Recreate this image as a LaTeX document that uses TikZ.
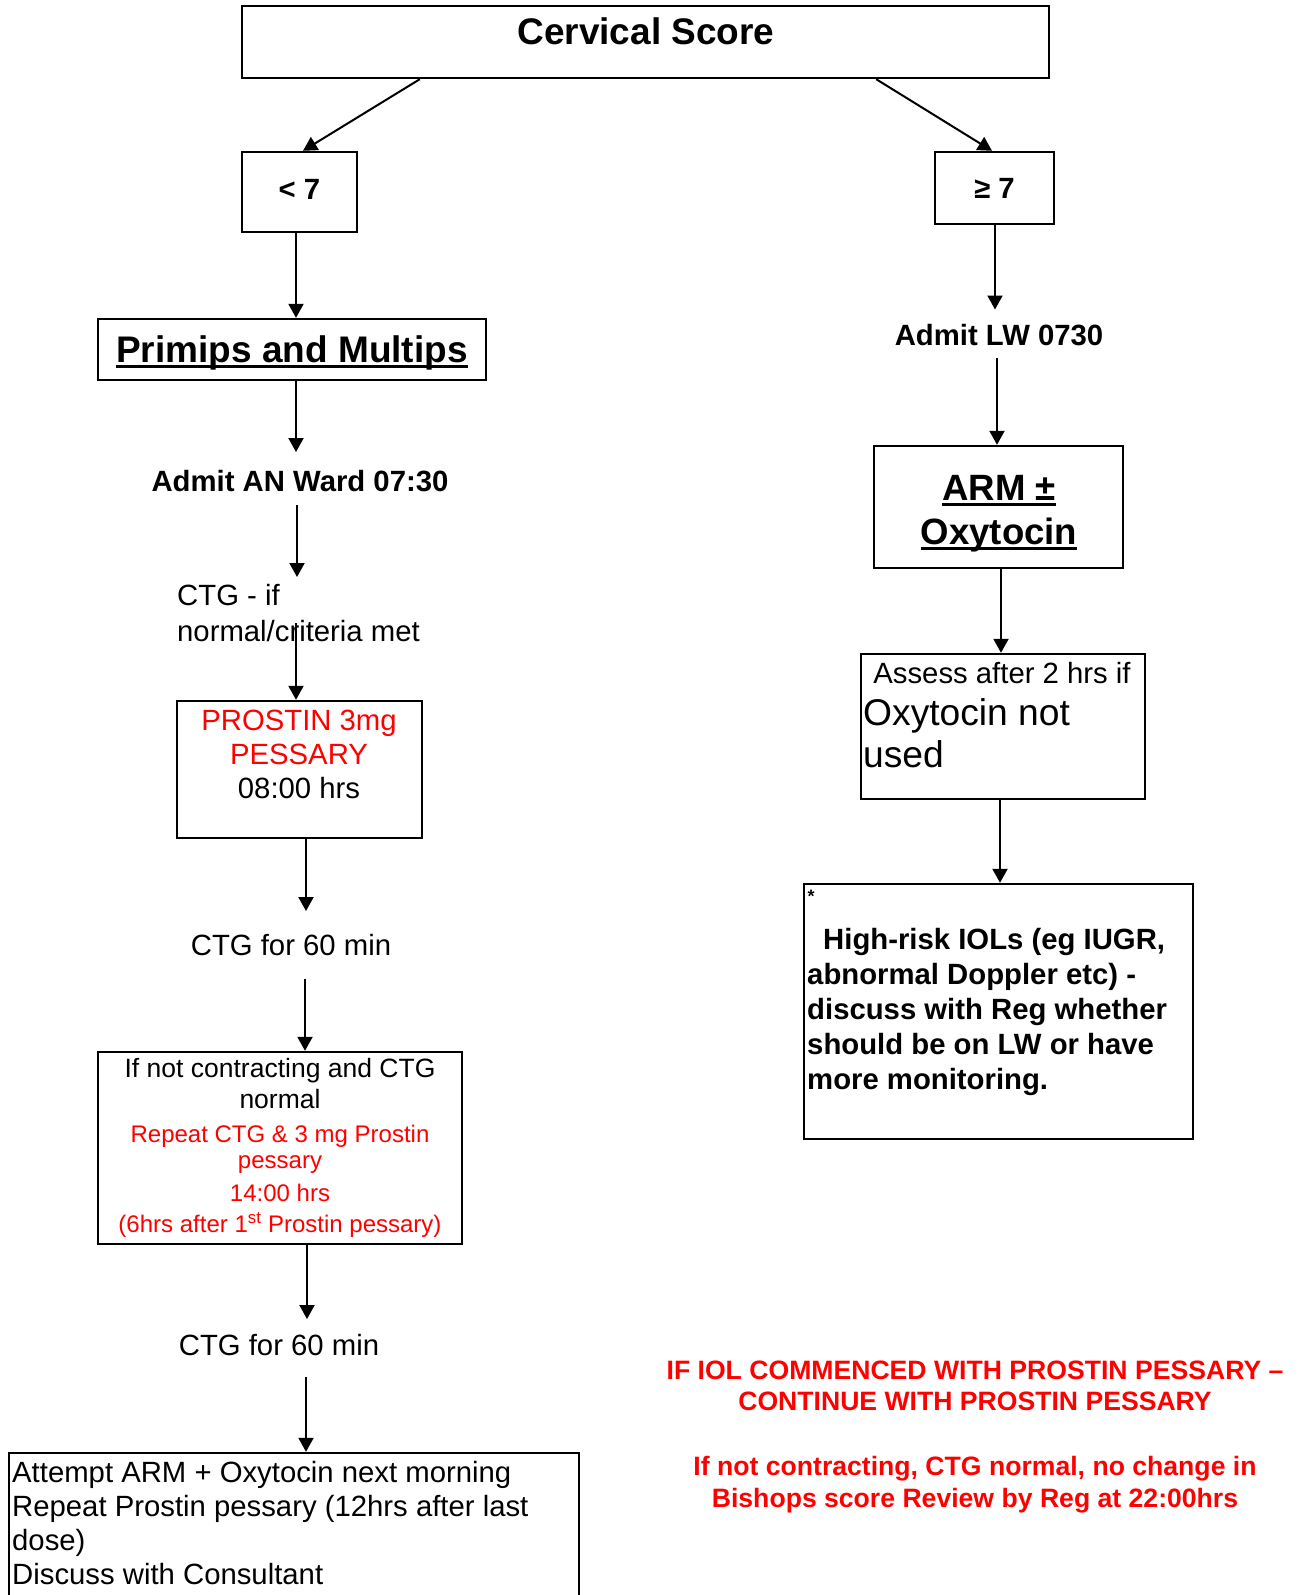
\documentclass[tikz,border=0pt]{standalone}
\usepackage{fontspec}
\setmainfont{Liberation Sans}
\usetikzlibrary{arrows.meta}
\definecolor{alertred}{RGB}{255,0,0}
% font sizes (1pt = one pixel of the page)
\newcommand\ftitle{\fontsize{37}{44}\selectfont}
\newcommand\farm{\fontsize{36.6}{44}\selectfont}
\newcommand\fassess{\fontsize{37.2}{42}\selectfont}
\newcommand\fmid{\fontsize{29.3}{34}\selectfont}
\newcommand\fctg{\fontsize{29.3}{36}\selectfont}
\newcommand\fhr{\fontsize{29.3}{35}\selectfont}
\newcommand\fsmall{\fontsize{26.5}{31}\selectfont}
\newcommand\fred{\fontsize{24}{27}\selectfont\color{alertred}}
\newcommand\fnote{\fontsize{26.6}{31.5}\selectfont}
\newcommand\fstar{\fontsize{18}{20}\selectfont}
% heavy underline
\newcommand\ulbar[1]{\leavevmode\sbox0{#1}\rlap{\rule[-6pt]{\wd0}{3.2pt}}\usebox0}
\begin{document}
\begin{tikzpicture}[x=1pt,y=-1pt,
  box/.style={draw, line width=2.4pt, inner sep=0pt},
  txt/.style={inner sep=0pt},
  conn/.style={line width=2pt, -{Triangle[width=15pt,length=14pt]}}]
\useasboundingbox (0,0) rectangle (1300,1595);

% ---- top ----
\node[box, minimum width=807pt, minimum height=72pt] (cs) at (645.5,42) {};
\node[txt, font=\ftitle\bfseries] (cstext) at (646,31) {Cervical Score};

% ---- left branch ----
\node[box, minimum width=115pt, minimum height=80pt, text depth=6pt, font=\fmid\bfseries] (lt7) at (299.5,192) {< 7};
\node[box, minimum width=388pt, minimum height=61pt, text height=33pt, font=\ftitle\bfseries] (primips) at (292,349.5) {\ulbar{Primips and Multips}};
\node[txt, font=\fmid\bfseries] (admitan) at (300,481) {Admit AN Ward 07:30};
\node[txt, font=\fctg, align=left, anchor=north west] (ctgif) at (177,584) {CTG - if\\normal/criteria met};
\node[box, minimum width=245pt, minimum height=137pt] (prostin) at (299.5,769.5) {};
\node[txt, font=\fmid, align=center] (prostintext) at (299,754)
  {\textcolor{alertred}{PROSTIN 3mg}\\\textcolor{alertred}{PESSARY}\\08:00 hrs};
\node[txt, font=\fmid] (ctgA) at (291,945) {CTG for 60 min};
\node[box, minimum width=364pt, minimum height=192pt, align=center, font=\fsmall] (ifnot) at (280,1148)
  {If not contracting and CTG\\normal\\[3pt]
   \fred Repeat CTG \& 3 mg Prostin\\[-5pt]\fred pessary\\[2pt]\fred 14:00 hrs\\
   \fred (6hrs after 1\textsuperscript{st} Prostin pessary)};
\node[txt, font=\fmid] (ctgB) at (279,1345) {CTG for 60 min};
\node[box, minimum width=570pt, minimum height=152pt] (attempt) at (294,1529) {};
\node[txt, font=\fmid, align=left, anchor=north west] (attempttext) at (12,1461)
  {Attempt ARM + Oxytocin next morning\\Repeat Prostin pessary (12hrs after last\\dose)\\Discuss with Consultant};

% ---- right branch ----
\node[box, minimum width=119pt, minimum height=72pt, font=\fmid\bfseries] (ge7) at (994.5,188) {≥ 7};
\node[txt, font=\fmid\bfseries] (admitlw) at (999,335) {Admit LW 0730};
\node[box, minimum width=249pt, minimum height=122pt] (arm) at (998.5,507) {};
\node[txt, font=\farm\bfseries, align=center, anchor=north] (armtext) at (999,475)
  {\ulbar{ARM ±}\\\ulbar{Oxytocin}};
\node[box, minimum width=284pt, minimum height=145pt] (assess) at (1003,726.5) {};
\node[txt, font=\fmid] (assess1) at (1002,673) {Assess after 2 hrs if};
\node[txt, font=\fassess, align=left, anchor=north west] (assess2) at (863,698) {Oxytocin not\\used};
\node[box, minimum width=389pt, minimum height=255pt] (highrisk) at (998.5,1011.5) {};
\node[txt, font=\fstar\bfseries] (star) at (811,896) {*};
\node[txt, font=\fhr\bfseries, align=left, anchor=north west] (hrtext) at (807,928)
  {\hspace*{16pt}High-risk IOLs (eg IUGR,\\abnormal Doppler etc) -\\discuss with Reg whether\\should be on LW or have\\more monitoring.};

% ---- notes ----
\node[txt, font=\fnote\bfseries, align=center, text=alertred] (note1) at (975,1386)
  {IF IOL COMMENCED WITH PROSTIN PESSARY –\\CONTINUE WITH PROSTIN PESSARY};
\node[txt, font=\fnote\bfseries, align=center, text=alertred] (note2) at (975,1484.5)
  {If not contracting, CTG normal, no change in\\Bishops score Review by Reg at 22:00hrs};

% ---- connectors ----
\draw[conn] ([xshift=179pt]cs.south west) -- ([xshift=3.5pt]lt7.north);
\draw[conn] ([xshift=-174pt]cs.south east) -- ([xshift=-2.5pt]ge7.north);
\draw[conn] ([xshift=-3.5pt]lt7.south) -- ([xshift=4pt]primips.north);
\draw[conn] ([xshift=4pt]primips.south) -- ([xshift=-4pt,yshift=18pt]admitan.north);
\draw[conn] ([xshift=-3pt,yshift=-13pt]admitan.south) -- ([xshift=120pt,yshift=7pt]ctgif.north west);
\draw[conn] ([xshift=119pt,yshift=-39pt]ctgif.north west) -- ([xshift=-3.5pt]prostin.north);
\draw[conn] ([xshift=6.5pt]prostin.south) -- ([xshift=15pt,yshift=23pt]ctgA.north);
\draw[conn] ([xshift=14pt,yshift=-23pt]ctgA.south) -- ([xshift=25pt]ifnot.north);
\draw[conn] ([xshift=27pt]ifnot.south) -- ([xshift=28pt,yshift=15pt]ctgB.north);
\draw[conn] ([xshift=27pt,yshift=-21pt]ctgB.south) -- ([xshift=12pt]attempt.north);

\draw[conn] ([xshift=0.5pt]ge7.south) -- ([xshift=-4pt,yshift=14.5pt]admitlw.north);
\draw[conn] ([xshift=-2pt,yshift=-12.5pt]admitlw.south) -- ([xshift=-1.5pt]arm.north);
\draw[conn] ([xshift=2.5pt]arm.south) -- ([xshift=-2pt]assess.north);
\draw[conn] ([xshift=-3pt]assess.south) -- ([xshift=1.5pt]highrisk.north);
\end{tikzpicture}
\end{document}
